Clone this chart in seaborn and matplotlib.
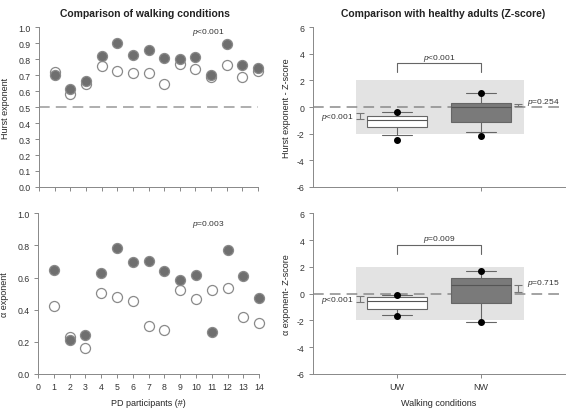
import numpy as np
import pandas as pd
import seaborn as sns
import matplotlib.pyplot as plt
from matplotlib.patches import Rectangle

# participants 1..14
participants = list(range(1, 15))

# Hurst exponent per participant (open = UW, filled = NW)
hurst_uw = [0.719, 0.583, 0.644, 0.758, 0.727, 0.715, 0.712, 0.644, 0.769, 0.737, 0.687, 0.765, 0.685, 0.723]
hurst_nw = [0.698, 0.615, 0.660, 0.819, 0.898, 0.825, 0.856, 0.808, 0.798, 0.812, 0.702, 0.892, 0.762, 0.744]

# alpha exponent per participant
alpha_uw = [0.425, 0.229, 0.160, 0.506, 0.481, 0.452, 0.300, 0.275, 0.525, 0.467, 0.523, 0.537, 0.354, 0.317]
alpha_nw = [0.644, 0.212, 0.242, 0.629, 0.781, 0.696, 0.704, 0.640, 0.583, 0.615, 0.262, 0.771, 0.610, 0.475]

conditions = ['UW', 'NW']

# Z-score box summaries: q1, median, q3, whisker low, whisker high, dots
hurst_box = {
    'UW': dict(q1=-1.50, med=-0.95, q3=-0.68, lo=-2.13, hi=-0.40, dots=[-2.45, -0.40]),
    'NW': dict(q1=-1.15, med=0.00, q3=0.33, lo=-1.88, hi=1.05, dots=[-2.15, 1.08]),
}
alpha_box = {
    'UW': dict(q1=-1.18, med=-0.58, q3=-0.24, lo=-1.58, hi=-0.14, dots=[-1.68, -0.14]),
    'NW': dict(q1=-0.73, med=0.61, q3=1.13, lo=-2.10, hi=1.68, dots=[-2.10, 1.68]),
}

# small confidence bars next to the boxes (low, high)
hurst_ci = {'UW': (-0.93, -0.45), 'NW': (0.05, 0.22)}
alpha_ci = {'UW': (-0.61, -0.21), 'NW': (0.09, 0.63)}

hurst_p = ['$p$<0.001', '$p$<0.001', '$p$=0.254']
alpha_p = ['$p$=0.003', '$p$=0.009', '$p$<0.001', '$p$=0.715']

sns.set_style('ticks')
plt.rcParams['font.family'] = ['Liberation Sans', 'DejaVu Sans']
plt.rcParams['mathtext.fontset'] = 'custom'
plt.rcParams['mathtext.it'] = 'Liberation Sans:italic'
plt.rcParams['mathtext.rm'] = 'Liberation Sans'
plt.rcParams['axes.edgecolor'] = '#888888'
plt.rcParams['xtick.color'] = '#888888'
plt.rcParams['ytick.color'] = '#888888'
plt.rcParams['xtick.labelcolor'] = '#333333'
plt.rcParams['ytick.labelcolor'] = '#333333'

fig = plt.figure(figsize=(5.67, 4.10), dpi=100)
ax1 = fig.add_axes([0.069, 0.5415, 0.386, 0.390])
ax2 = fig.add_axes([0.067, 0.0855, 0.390, 0.392])
ax3 = fig.add_axes([0.552, 0.5415, 0.444, 0.390])
ax4 = fig.add_axes([0.552, 0.0855, 0.444, 0.392])

filled_col = '#6f6f6f'
edge_col = '#8a8a8a'


def scatter_panel(ax, uw, nw, ylabel, yticks, ptext, py, show_x):
    df = pd.DataFrame({'participant': participants + participants,
                       'value': uw + nw,
                       'cond': ['UW'] * 14 + ['NW'] * 14})
    sns.scatterplot(data=df[df.cond == 'UW'], x='participant', y='value', ax=ax,
                    color='white', edgecolor=edge_col, linewidth=0.9, s=52, clip_on=False, zorder=3)
    sns.scatterplot(data=df[df.cond == 'NW'], x='participant', y='value', ax=ax,
                    color=filled_col, edgecolor=edge_col, linewidth=0.9, s=52, clip_on=False, zorder=3)
    ax.set_xlim(0, 14)
    ax.set_ylim(0, 1.0)
    ax.set_xticks(range(0, 15))
    ax.set_yticks(yticks)
    ax.set_yticklabels([f'{t:.1f}' for t in yticks], fontsize=6.3)
    if show_x:
        ax.set_xticklabels([str(i) for i in range(0, 15)], fontsize=6.3)
        ax.set_xlabel('PD participants (#)', fontsize=6.5, labelpad=5)
    else:
        ax.set_xticklabels([])
        ax.set_xlabel('')
    ax.set_ylabel(ylabel, fontsize=6.5, labelpad=6)
    ax.tick_params(length=3, width=0.7, pad=3)
    sns.despine(ax=ax)
    ax.spines['left'].set_linewidth(0.7)
    ax.spines['bottom'].set_linewidth(0.7)
    ax.text(9.75, py, ptext, fontsize=6, ha='left', va='center', color='#333333')


def box_panel(ax, boxes, ci, p_between, p_uw, p_nw, ylabel, bracket_y, show_x):
    ax.add_patch(Rectangle((0.51, -2), 2.01, 4, facecolor='#e3e3e3', edgecolor='none', zorder=0))
    ax.axhline(0, color='#8a8a8a', lw=1.1, ls=(0, (7, 4)), zorder=1)
    stats = []
    for c in conditions:
        b = boxes[c]
        stats.append(dict(med=b['med'], q1=b['q1'], q3=b['q3'], whislo=b['lo'], whishi=b['hi'],
                          fliers=b['dots'], label=c))
    bp = ax.bxp(stats, positions=[1, 2], widths=0.72, patch_artist=True, manage_ticks=False,
                boxprops=dict(edgecolor='#666666', linewidth=0.8),
                medianprops=dict(color='#555555', linewidth=0.8),
                whiskerprops=dict(color='#666666', linewidth=0.8),
                capprops=dict(color='#666666', linewidth=0.8),
                flierprops=dict(marker='o', markerfacecolor='black', markeredgecolor='black', markersize=4))
    for patch, fc in zip(bp['boxes'], ['white', '#7a7a7a']):
        patch.set_facecolor(fc)
        patch.set_zorder(2)
    # small bars
    for xpos, c in zip([0.56, 2.44], conditions):
        lo, hi = ci[c]
        ax.errorbar([xpos], [(lo + hi) / 2], yerr=[[(hi - lo) / 2]], color='#777777',
                    lw=0.8, capsize=3, capthick=0.8, zorder=3)
    ax.text(0.48, (ci['UW'][0] + ci['UW'][1]) / 2 - 0.05, p_uw, fontsize=6, ha='right', va='center', color='#333333')
    ax.text(2.55, ci['NW'][1] + 0.2, p_nw, fontsize=6, ha='left', va='center', color='#333333')
    # bracket
    ax.plot([1, 1, 2, 2], [bracket_y - 0.65, bracket_y, bracket_y, bracket_y - 0.65], color='#666666', lw=0.8)
    ax.text(1.5, bracket_y + 0.45, p_between, fontsize=6, ha='center', va='center', color='#333333')
    ax.set_xlim(0, 3)
    ax.set_ylim(-6, 6)
    ax.set_yticks(range(-6, 7, 2))
    ax.set_yticklabels([str(t) for t in range(-6, 7, 2)], fontsize=6.3)
    ax.set_xticks([1, 2])
    if show_x:
        ax.set_xticklabels(conditions, fontsize=6.5)
        ax.set_xlabel('Walking conditions', fontsize=6.5, labelpad=5)
    else:
        ax.set_xticklabels([])
    ax.set_ylabel(ylabel, fontsize=6.5, labelpad=4)
    ax.tick_params(length=3, width=0.7, pad=3)
    sns.despine(ax=ax)
    ax.spines['left'].set_linewidth(0.7)
    ax.spines['bottom'].set_linewidth(0.7)


scatter_panel(ax1, hurst_uw, hurst_nw, 'Hurst exponent', np.round(np.arange(0, 1.01, 0.1), 1),
              hurst_p[0], 0.97, False)
ax1.axhline(0.5, color='#999999', lw=1.1, ls=(0, (7, 4)), zorder=1)
scatter_panel(ax2, alpha_uw, alpha_nw, 'α exponent', np.round(np.arange(0, 1.01, 0.2), 1),
              alpha_p[0], 0.935, True)

box_panel(ax3, hurst_box, hurst_ci, hurst_p[1], hurst_p[1], hurst_p[2],
          'Hurst exponent - Z-score', 3.3, False)
box_panel(ax4, alpha_box, alpha_ci, alpha_p[1], alpha_p[2], alpha_p[3],
          'α exponent- Z-score', 3.64, True)

fig.text(0.256, 0.965, 'Comparison of walking conditions', fontsize=7.5, fontweight='bold',
         ha='center', va='center', color='#222222')
fig.text(0.782, 0.965, 'Comparison with healthy adults (Z-score)', fontsize=7.5, fontweight='bold',
         ha='center', va='center', color='#222222')

fig.savefig('out.png', dpi=100)
